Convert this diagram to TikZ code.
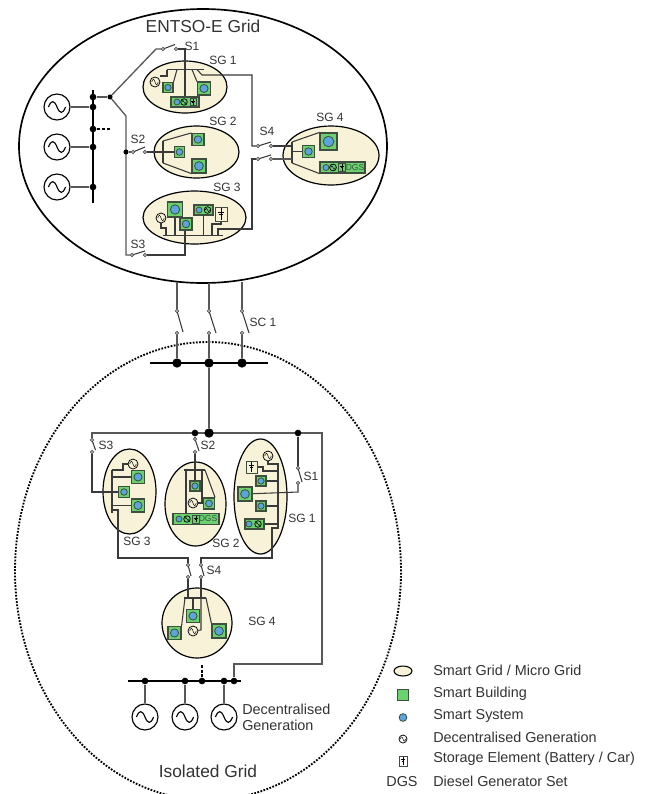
\documentclass[tikz,border=0pt]{standalone}
\usepackage{fontspec}
\setmainfont{Liberation Sans}
\usetikzlibrary{shapes.geometric}
\pgfdeclarelayer{bgl}\pgfdeclarelayer{wires}
\pgfsetlayers{bgl,wires,main}
\definecolor{cream}{HTML}{F7F2D8}
\definecolor{bgreen}{HTML}{6BD16F}
\definecolor{bblue}{HTML}{5BA5DC}
\definecolor{wire}{HTML}{3A3A3A}
\definecolor{edgeg}{HTML}{3F4F3F}
\definecolor{txt}{HTML}{333333}
\tikzset{
 wr/.style={draw=wire,line width=0.8pt},
 wrg/.style={draw=wire!85,line width=1pt},
 bar/.style={draw=black,line width=2.1pt},
 sbar/.style={draw=wire,line width=1.1pt},
 dotn/.style={circle,fill=black,inner sep=0,minimum size=5pt},
 dotb/.style={circle,fill=black,inner sep=0,minimum size=7pt},
 term/.style={circle,draw=wire,fill=white,line width=0.5pt,inner sep=0,minimum size=2.4pt},
 lab/.style={font=\fontsize{9}{10}\selectfont,text=txt,inner sep=0},
 leg/.style={font=\fontsize{10.8}{12}\selectfont,text=txt,inner sep=0,anchor=west},
 sgn/.style={ellipse,draw=black,fill=cream,line width=0.9pt,inner sep=0},
 bldn/.style={rectangle,draw=edgeg,fill=bgreen,line width=0.85pt,inner sep=0},
 sysn/.style={circle,draw=edgeg,fill=bblue,line width=0.6pt,inner sep=0},
 genn/.style={circle,draw=black,inner sep=0},
 storn/.style={rectangle,draw=edgeg,inner sep=0,line width=0.7pt},
}
% building with system: name x y size
\newcommand\bld[4]{\node[bldn,minimum size=#4*0.75pt] (#1) at (#2,#3) {};
 \node[sysn,minimum size=#4*0.47pt] at (#1.center) {};}
\newcommand\sysd[3]{\node[sysn,minimum size=4.5pt] (#1) at (#2,#3) {};}
% generator: name x y r width fill
\newcommand\gen[6]{\node[genn,fill=#6,line width=#5,minimum size=#4*1.5pt] (#1) at (#2,#3) {};
 \draw[black,line width=#5,shift={(#1.center)},scale=#4] (-0.66,0) .. controls (-0.44,-0.55) and (-0.22,-0.55) .. (0,0) .. controls (0.22,0.55) and (0.44,0.55) .. (0.66,0);}
% small generator
\newcommand\gens[5]{\node[genn,fill=#5,line width=0.55pt,minimum size=#4*1.5pt] (#1) at (#2,#3) {};
 \draw[black,line width=0.35pt,shift={(#1.center)},scale=#4] (-0.66,0) .. controls (-0.44,-0.7) and (-0.22,-0.7) .. (0,0) .. controls (0.22,0.7) and (0.44,0.7) .. (0.66,0);}
% storage: name x y w h fill
\newcommand\stor[6]{\node[storn,fill=#6,minimum width=#4*0.75pt,minimum height=#5*0.75pt] (#1) at (#2,#3) {};
 \draw[black,line width=0.5pt,shift={(#1.center)},scale=#5/10] (0,-4) -- (0,4) (-2.2,-1.2) -- (2.2,-1.2) (-1.2,0.3) -- (1.2,0.3);}
\newcommand\combo[5]{\node[bldn,minimum width=#4*0.75pt,minimum height=#5*0.75pt] (#1) at (#2,#3) {};}
\newcommand\sgel[5]{\begin{pgfonlayer}{bgl}\node[sgn,minimum width=#4*1.5pt,minimum height=#5*1.5pt] (#1) at (#2,#3) {};\end{pgfonlayer}}
% switch: name ax ay bx by tipx tipy
\newcommand\sw[7]{\node[term] (#1a) at (#2,#3) {}; \node[term] (#1b) at (#4,#5) {};
 \begin{pgfonlayer}{wires}\draw[wr] (#1a.center) -- (#6,#7);\end{pgfonlayer}}
\newcommand\jn[3]{\node[dotn] (#1) at (#2,#3) {};}
\newcommand\jb[3]{\node[dotb] (#1) at (#2,#3) {};}
\newcommand\wires[1]{\begin{pgfonlayer}{wires}#1\end{pgfonlayer}}
\begin{document}
\begin{tikzpicture}[x=0.75pt,y=-0.75pt]
\useasboundingbox (0,0) rectangle (647,794);
\begin{pgfonlayer}{bgl}
\fill[white] (0,0) rectangle (647,794);
\node[ellipse,draw=black,line width=1.25pt,minimum width=368*0.75pt,minimum height=274*0.75pt,inner sep=0] (entso) at (203,146) {};
\begin{scope}
\clip (0,0) rectangle (647,794);
\node[ellipse,draw=black,line width=1.4pt,dash pattern=on 1.3pt off 1.1pt,minimum width=386*0.75pt,minimum height=458*0.75pt,inner sep=0] (iso) at (208,571) {};
\end{scope}
\end{pgfonlayer}

%% ENTSO-E
\node[lab,font=\fontsize{13}{14}\selectfont] (tentso) at (203,26) {ENTSO-E Grid};
\sgel{sga}{185}{87}{42}{26}
\sgel{sgb}{196.5}{152}{42.5}{26}
\sgel{sgc}{194.5}{217.5}{51.5}{26.5}
\sgel{sgd}{331}{155.5}{48}{29.5}
\node[lab] (ls1) at (192,46) {S1};
\node[lab] (lsg1) at (223,60) {SG 1};
\node[lab] (lsg2) at (223,121) {SG 2};
\node[lab] (lsg3) at (227,187) {SG 3};
\node[lab] (lsg4) at (330,117) {SG 4};
\node[lab] (ls2) at (138,139) {S2};
\node[lab] (ls3) at (138,244) {S3};
\node[lab] (ls4) at (267,131) {S4};
\gen{g1}{57}{107}{13}{0.85pt}{white}
\gen{g2}{57}{147}{13}{0.85pt}{white}
\gen{g3}{57}{187}{13}{0.85pt}{white}
\jn{j1}{93}{97}\jn{j2}{93}{107}\jn{j3}{93}{129}\jn{j4}{93}{147}\jn{j5}{93}{187}
\node[dotn,minimum size=3.8pt] (j6) at (110,97) {};
\node[dotn,minimum size=3.8pt] (j7) at (126,152) {};
\coordinate (bt) at (93,90); \coordinate (bb) at (93,203);
\coordinate (dashend) at (110,129);
\sw{sa}{163}{49}{176}{49}{175}{44.5}
\sw{sb}{133}{152}{145}{152}{145}{147}
\sw{sc}{132}{255}{145}{255}{145}{251}
\sw{sd}{258}{146}{271}{146}{271}{142}
\sw{se}{258}{159}{271}{159}{271}{155}
% SG1 content
\coordinate (ba1) at (167,69.5); \coordinate (ba2) at (204,69.5);
\gens{ga}{155}{82}{5}{cream}
\bld{ba}{168}{87.5}{10}
\bld{bb2}{204}{88.5}{13}
\combo{ca}{185}{102}{28}{10}
\sysd{caa}{177}{102}\gens{cab}{184}{102}{3.3}{bgreen}\stor{cac}{193}{102}{6}{7}{bgreen}
% SG2 content
\bld{bc}{179.5}{152}{10.5}
\bld{bd}{198}{139.5}{12}
\bld{be}{199}{166}{14}
% SG3 content
\bld{bf}{175}{209.5}{15}
\bld{bg}{186}{224}{12}
\gens{gb}{161}{218}{5}{cream}
\combo{cb}{203.5}{210}{19}{10}
\sysd{cba}{199}{210}\gens{cbb}{207.5}{210}{3.3}{bgreen}
\stor{sc1}{221}{214}{12}{14}{cream}
\coordinate (bs1) at (163,235.7); \coordinate (bs2) at (223,235.7);
% SG4 content
\bld{bh}{328.5}{141.5}{17}
\bld{bi}{308.5}{151.5}{12}
\combo{cc}{342.5}{167.5}{45}{11}
\sysd{cca}{326}{167.5}\gens{ccb}{333}{167.5}{3.4}{bgreen}\stor{ccc}{342}{167.5}{6.5}{8}{bgreen}
\node[lab,font=\fontsize{6.4}{7}\selectfont,text=edgeg] (tdgsa) at (355,167.5) {DGS};

%% Coupling
\node[lab] (lsc) at (263,322) {SC 1};
\sw{t1}{177}{311}{177}{333}{183}{332}
\sw{t2}{209}{311}{209}{333}{216}{333}
\sw{t3}{242}{311}{242}{333}{249}{333}
\coordinate (c1) at (177,281.5); \coordinate (c2) at (209,283); \coordinate (c3) at (242,281.5);
\coordinate (isl) at (150,363); \coordinate (isr) at (268,363);
\jb{k1}{177}{363}\jb{k2}{209}{363}\jb{k3}{242}{363}
\jb{k4}{209}{433}

%% Isolated
\node[lab,font=\fontsize{13}{14}\selectfont] (tiso) at (208,771) {Isolated Grid};
\sgel{ia}{260.5}{496.5}{26.5}{57.5}
\sgel{ib}{195.5}{504}{30.5}{42}
\sgel{ic}{129.5}{491.5}{26.5}{42.5}
\sgel{id}{197}{623}{35}{35}
\node[lab] (lis1) at (311,476) {S1};
\node[lab] (lis2) at (208,445) {S2};
\node[lab] (lis3) at (106,445) {S3};
\node[lab] (lis4) at (214,570) {S4};
\node[lab] (lisg1) at (302,518) {SG 1};
\node[lab] (lisg2) at (226,543) {SG 2};
\node[lab] (lisg3) at (137,541) {SG 3};
\node[lab] (lisg4) at (262,621) {SG 4};
\jn{h1}{195}{433}\jn{h2}{298}{433}
\sw{ua}{92}{440}{92}{452}{95.5}{450}
\sw{ub}{195}{439}{195}{452}{199}{451}
\sw{uc}{298}{468}{298}{483}{302}{482}
\sw{ud}{188}{565}{188}{577}{191}{576}
\sw{ue}{201}{565}{201}{577}{204}{576}
% iso SG3
\gens{gc}{133}{464}{5}{cream}
\bld{bj}{138}{477}{13}
\bld{bk}{124}{492}{10.5}
\bld{bl}{138}{505.5}{13}
% iso SG2
\gens{gd}{193}{503}{5}{cream}
\bld{bm}{195}{486}{10}
\bld{bn}{209}{503.5}{11}
\combo{cd}{196}{519}{46}{10.5}
\sysd{cda}{179}{519}\gens{cdb}{187}{519}{3.3}{bgreen}\stor{cdc}{196}{519}{6.5}{8}{bgreen}
\node[lab,font=\fontsize{6.4}{7}\selectfont,text=edgeg] (tdgsb) at (208,519) {DGS};
% iso SG1
\gens{ge}{268}{456}{5}{cream}
\stor{se1}{251.5}{467}{11}{12}{cream}
\bld{bo}{261}{481}{10}
\bld{bp}{245}{494}{14}
\bld{bq}{261}{506}{10}
\combo{ce}{254.5}{524}{19}{10}
\sysd{cea}{249}{524}\gens{ceb}{258}{524}{3.3}{bgreen}
% iso SG4
\bld{br}{174.5}{633}{13}
\bld{bs}{193}{616}{13}
\bld{bt2}{219}{631}{14}
\gens{gf}{193}{631}{5}{cream}
% bottom
\coordinate (dl) at (128,681); \coordinate (dr) at (241,681); \coordinate (dtop) at (202,664);
\jn{m1}{145}{681}\jn{m2}{185}{681}\jn{m3}{202}{681}\jn{m4}{224}{681}\jn{m5}{234}{681}
\gen{gg}{145}{717}{13}{0.85pt}{white}
\gen{gh}{185}{717}{13}{0.85pt}{white}
\gen{gi}{224}{717}{13}{0.85pt}{white}
\node[lab,leg] (tdec1) at (242,709.5) {Decentralised};
\node[lab,leg] (tdec2) at (242,725) {Generation};

%% Legend
\node[ellipse,draw=black,fill=cream,line width=0.8pt,minimum width=13.5pt,minimum height=7.5pt,inner sep=0] (la) at (403,671) {};
\node[bldn,draw=edgeg,line width=0.6pt,minimum size=8.2pt] (lb) at (402.5,695) {};
\node[sysn,minimum size=5.8pt] (lc) at (403,717.5) {};
\gens{ld}{403}{739}{4}{white}
\stor{le}{403}{761}{8}{10}{white}
\node[lab,font=\fontsize{10.8}{12}\selectfont] (lf) at (402,782) {DGS};
\node[leg] (ta) at (433,670.7) {Smart Grid / Micro Grid};
\node[leg] (tb) at (433,693.7) {Smart Building};
\node[leg] (tc) at (433,715.7) {Smart System};
\node[leg] (td) at (433,737) {Decentralised Generation};
\node[leg] (te) at (433,759) {Storage Element (Battery / Car)};
\node[leg] (tf) at (433,781.6) {Diesel Generator Set};

%% Connectors
\wires{
\draw[bar] (bt) -- (bb);
\draw[wrg] (g1) -- (j2); \draw[wrg] (g2) -- (j4); \draw[wrg] (g3) -- (j5);
\draw[wrg] (j1) -- (j6);
\draw[bar,line width=1.4pt,dash pattern=on 2.6pt off 1.4pt] (j3) -- (dashend);
\draw[wrg] (j6) -- (156,49) -- (saa);
\draw[wr] (sab) -- (185,49) -- (ca.north -| 185,0);
\draw[wrg] (j6) -- (126,116) -- (126,255) -- (sca);
\draw[wrg] (j7) -- (sba);
\draw[wr] (sbb) -- (bc);
\draw[wr] (scb) -- (185,255) -- (bg.south -| 185,0);
% SG1
\draw[sbar] (ba1) -- (ba2);
\draw[wr] (ba1) -- (167,76) -- (160,76);
\draw[wr] (177,69.5) -- (ba.north east);
\draw[wr] (192,69.5) -- (bb2.north west);
\draw[wr] (197,69.5) -- (202,75) -- (252,75) -- (252,146) -- (sda);
% SG2
\draw[sbar] (163,141) -- (163,163);
\draw[wr] (163,141) -- (bd.north west);
\draw[wr] (163,163) -- (be.south west);
% SG3
\draw[sbar] (bs1) -- (bs2);
\draw[wr] (gb) -- (161,228) -- (166,228) -- (166,235.7);
\draw[wr] (bf) -- (175,235.7);
\draw[wr] (cb.south) -- (203.5,235.7);
\draw[wr] (sc1.south) -- (221,224) -- (212,224) -- (212,235.7);
\draw[wr] (218,235.7) -- (218,229) -- (252,229) -- (252,159) -- (sea);
% SG4
\draw[sbar] (292,142) -- (292,163);
\draw[wr] (sdb) -- (292,146);
\draw[wrg] (seb) -- (292,159);
\draw[wr] (292,142) -- (bh.north west);
\draw[wr] (292,151.5) -- (bi);
\draw[wr] (292,163) -- (cc.south west);
% coupling
\draw[wrg] (c1) -- (t1a); \draw[wrg] (c2) -- (t2a); \draw[wrg] (c3) -- (t3a);
\draw[wrg] (t1b) -- (k1); \draw[wrg] (t2b) -- (k2); \draw[wrg] (t3b) -- (k3);
\draw[bar] (isl) -- (isr);
\draw[wrg] (k2) -- (k4);
% isolated main
\draw[wrg] (uaa) -- (92,433) -- (322,433) -- (322,664) -- (234,664) -- (m5);
\draw[wr] (uab) -- (92,492) -- (bk);
\draw[wr] (h1) -- (uba); \draw[wr] (h2) -- (uca);
\draw[wr] (ubb) -- (bm);
\draw[wr] (ucb) -- (298,492) -- (bp);
% iso SG3
\draw[sbar] (112,470) -- (112,513);
\draw[wr] (112,470) -- (123,470) -- (123,464) -- (gc);
\draw[wr] (112,477) -- (bj);
\draw[wr] (112,505.5) -- (bl);
\draw[wr] (112,510) -- (118,510) -- (118,558) -- (188,558) -- (uda);
% iso SG2
\draw[sbar] (184,470) -- (205,470);
\draw[wr] (186,470) -- (186,514);
\draw[wr] (202,470) -- (202,503) -- (gd);
\draw[wr] (205,470) -- (bn.north east);
% iso SG1
\draw[sbar] (278,470) -- (278,529);
\draw[wr] (ge) -- (268,464) -- (278,464) -- (278,470);
\draw[wr] (se1) -- (263,467) -- (263,471) -- (278,471);
\draw[wr] (bo) -- (278,481);
\draw[wr] (bq) -- (278,506);
\draw[wr] (ce) -- (278,524);
\draw[wr] (278,528) -- (272,528) -- (272,558) -- (201,558) -- (uea);
% iso SG4
\draw[wr] (udb) -- (188,598); \draw[wr] (ueb) -- (201,598);
\draw[sbar] (184,598) -- (206,598);
\draw[wr] (185,598) -- (br.north east);
\draw[wr] (193,598) -- (bs);
\draw[wr] (201,598) -- (201,630) -- (gf);
\draw[wr] (206,598) -- (bt2.north west);
% bottom
\draw[bar] (dl) -- (dr);
\draw[wrg] (m1) -- (gg); \draw[wrg] (m2) -- (gh); \draw[wrg] (m4) -- (gi);
\draw[bar,line width=1.2pt,dash pattern=on 2.2pt off 1.2pt] (m3) -- (dtop);
}
\end{tikzpicture}
\end{document}
